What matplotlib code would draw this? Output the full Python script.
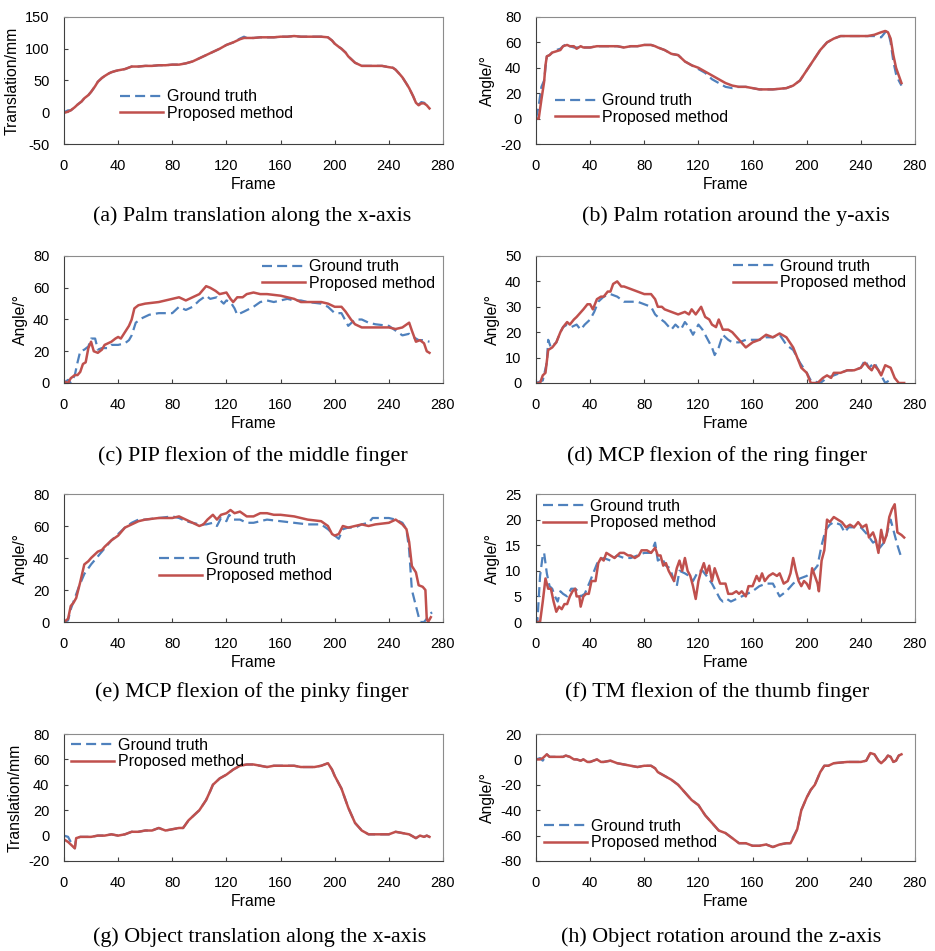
import numpy as np
import matplotlib
matplotlib.use("Agg")
import matplotlib.pyplot as plt

plt.rcParams['font.family'] = ['Liberation Sans', 'DejaVu Sans']
plt.rcParams['axes.unicode_minus'] = False

frame_ticks = [0, 40, 80, 120, 160, 200, 240, 280]

# (a) palm translation along x
pm_a_x = [0, 3, 5, 8, 10, 13, 15, 18, 20, 23, 25, 28, 30, 33, 35, 38, 40, 45, 50, 55, 60, 65, 70, 75, 80, 85,
          90, 95, 100, 105, 110, 115, 120, 125, 130, 133, 135, 140, 145, 150, 155, 160, 165, 170, 175, 180, 185,
          190, 195, 198, 200, 203, 205, 208, 210, 213, 215, 218, 220, 225, 230, 235, 240, 243, 245, 248, 250,
          253, 255, 258, 260, 262, 264, 266, 268, 270]
pm_a_y = [-1, 1, 3, 8, 12, 17, 22, 27, 32, 41, 48, 54, 57, 61, 63, 65, 66, 68, 72, 72, 73, 73, 74, 74, 75, 75,
          77, 80, 85, 90, 95, 100, 106, 110, 115, 117, 117, 117, 118, 118, 118, 119, 119, 120, 119, 119, 119,
          119, 118, 113, 108, 103, 100, 94, 88, 82, 78, 75, 73, 73, 73, 73, 71, 70, 67, 60, 55,
          45, 38, 25, 15, 11, 14, 14, 11, 6]
gt_a_x = pm_a_x
gt_a_y = [0, 3, 3, 8, 12, 17, 22, 27, 32, 41, 48, 54, 57, 61, 63, 65, 66, 68, 72, 72, 73, 73, 74, 74, 75, 75,
          77, 80, 85, 90, 95, 100, 106, 110, 116, 119, 117, 117, 118, 118, 118, 119, 119, 120, 119, 119, 119,
          119, 118, 113, 108, 103, 100, 94, 88, 82, 78, 75, 73, 73, 73, 73, 71, 70, 67, 60, 55,
          45, 38, 25, 15, 12, 16, 15, 11, 6]

# (b) palm rotation around y
pm_b_x = [0, 2, 4, 6, 7, 8, 10, 12, 15, 18, 20, 23, 25, 28, 30, 33, 35, 40, 45, 50, 55, 60, 65, 70, 75, 80, 85,
          88, 90, 95, 100, 105, 110, 115, 120, 125, 130, 135, 140, 145, 150, 155, 160, 165, 170, 175, 180, 185,
          190, 195, 200, 205, 210, 215, 220, 225, 230, 235, 240, 245, 250, 255, 258, 260, 262, 264, 266, 268, 270]
pm_b_y = [0, 0, 15, 29, 42, 49, 50, 52, 53, 54, 57, 58, 57, 57, 55, 57, 56, 56, 57, 57, 57, 57, 56, 57, 57, 58, 58,
          57, 56, 54, 51, 50, 45, 42, 40, 37, 34, 31, 28, 26, 25, 25, 24, 23, 23, 23, 23.5, 24,
          26, 30, 38, 46, 54, 60, 63, 65, 65, 65, 65, 65, 66, 68, 69, 68, 63, 50, 40, 34, 28]
gt_b_x = pm_b_x
gt_b_y = [0, 10, 25, 30, 40, 49, 50, 52, 54, 55, 57, 59, 57, 56, 56, 56, 56, 56, 57, 57, 57, 57, 56, 57, 57, 58, 58,
          57, 56, 54, 51, 50, 45, 42, 39, 36, 31, 28, 25, 24, 25, 25, 24, 23, 23, 23, 23.5, 24,
          26, 30, 38, 46, 54, 60, 63, 65, 65, 65, 65, 65, 65, 64, 68, 69, 60, 45, 35, 30, 26]

# (c) PIP flexion, middle finger
pm_c_x = [0, 3, 5, 8, 10, 12, 14, 16, 18, 20, 22, 25, 28, 30, 35, 38, 40, 42, 45, 48, 50, 52, 55, 60, 70, 80, 85,
          90, 95, 100, 105, 108, 112, 115, 120, 123, 125, 128, 132, 135, 140, 145, 150, 160, 165, 170, 175, 180,
          190, 195, 200, 205, 208, 212, 215, 220, 230, 240, 245, 250, 255, 257, 260, 263, 266, 268, 270]
pm_c_y = [1, 0, 3, 5, 5, 7, 12, 13, 22, 26, 20, 19, 21, 24, 26, 28, 29, 28, 32, 36, 40, 47, 49, 50, 51, 53, 54,
          52, 54, 56, 61, 60, 58, 56, 57, 53, 51, 54, 54, 56, 57, 56, 56, 55, 54, 53, 51, 51,
          51, 50, 48, 48, 45, 40, 37, 35, 35, 35, 34, 35, 38, 33, 26, 27, 25, 20, 19]
gt_c_x = [0, 3, 5, 8, 10, 12, 15, 18, 20, 23, 25, 28, 32, 35, 40, 45, 48, 50, 53, 58, 63, 70, 80, 85, 90, 95,
          100, 105, 108, 113, 118, 120, 123, 126, 128, 133, 140, 145, 150, 155, 160, 165, 170, 175, 180, 190,
          195, 200, 205, 210, 215, 220, 225, 230, 240, 245, 250, 255, 258, 262, 265, 270]
gt_c_y = [0, 2, 0, 5, 13, 20, 21, 23, 28, 28, 21, 22, 22, 24, 24, 25, 27, 30, 38, 41, 43, 44, 44, 48, 46, 48,
          52, 55, 53, 54, 50, 52, 51, 47, 43, 45, 48, 51, 52, 51, 52, 53, 52, 52, 51, 50,
          48, 44, 44, 36, 40, 40, 38, 37, 36, 33, 30, 31, 29, 27, 27, 26]

# (d) MCP flexion, ring finger
pm_d_x = [0, 3, 5, 7, 9, 12, 15, 18, 20, 23, 25, 28, 30, 35, 38, 40, 42, 45, 48, 50, 53, 55, 57, 60, 63, 65, 70,
          75, 80, 85, 88, 90, 93, 95, 100, 105, 110, 113, 115, 118, 122, 125, 128, 130, 133, 135, 138, 142, 145,
          150, 155, 160, 165, 170, 175, 180, 185, 190, 193, 196, 200, 203, 208, 212, 215, 218, 220, 225, 230,
          235, 240, 243, 246, 248, 250, 253, 255, 258, 262, 265, 268, 272]
pm_d_y = [0, 0, 3, 4, 13, 14, 16, 20, 22, 24, 23, 25, 26, 29, 31, 31, 29, 33, 34, 34, 36, 36, 39, 40, 38, 38, 37,
          36, 35, 35, 33, 30, 30, 29, 28, 27, 28, 27, 29, 27, 30, 26, 25, 23, 22, 25, 21, 21, 20,
          17, 14, 16, 17, 19, 18, 19.5, 18, 14, 10, 6, 4, 0, 0, 2, 3, 2, 4, 4, 5,
          5, 6, 8, 6, 5, 7, 5, 3, 7, 6, 2, 0, 0]
gt_d_x = [0, 5, 8, 9, 11, 15, 18, 20, 23, 26, 30, 33, 36, 40, 43, 46, 50, 55, 60, 65, 70, 75, 80, 85, 88, 90,
          95, 100, 103, 107, 110, 113, 116, 120, 123, 126, 130, 132, 135, 138, 142, 145, 150, 155, 160, 165,
          170, 175, 180, 185, 190, 195, 200, 203, 210, 215, 220, 225, 230, 235, 240, 243, 246, 250, 253, 256,
          258, 261]
gt_d_y = [0, 1, 8, 17, 14, 16, 20, 22, 23, 22, 23, 21, 23, 25, 28, 32, 34, 35, 34, 32, 32, 32, 31, 30, 27, 26,
          24, 21, 23, 21, 24, 22, 19, 23, 21, 18, 14, 11, 14, 19, 17, 16, 16, 17, 17, 17,
          18, 18, 19, 15, 13, 8, 4, 1, 0, 2, 3, 4, 5, 5, 6, 9, 6, 8, 5, 2,
          0, 1]

# (e) MCP flexion, pinky finger
pm_e_x = [0, 3, 5, 7, 9, 12, 15, 18, 20, 25, 28, 30, 35, 40, 45, 50, 55, 60, 70, 80, 85, 90, 95, 100, 103, 106,
          110, 113, 116, 120, 123, 126, 130, 135, 140, 145, 150, 155, 160, 170, 180, 190, 195, 198, 200, 203,
          206, 210, 215, 220, 225, 230, 240, 245, 250, 253, 255, 257, 260, 262, 265, 267, 268, 269, 271]
pm_e_y = [0, 2, 10, 12, 15, 25, 36, 38, 40, 44, 45, 47, 51, 54, 59, 61, 63, 64, 65, 65, 66, 64, 62, 60, 61, 64,
          67, 64, 67, 68, 70, 68, 69, 66, 66, 68, 68, 67, 67, 66, 64, 63, 60, 55, 54, 55,
          60, 59, 60, 61, 60, 61, 62, 64, 61, 58, 50, 35, 31, 23, 22, 20, 2, 0, 3]
gt_e_x = [0, 3, 5, 8, 11, 15, 20, 25, 30, 35, 40, 45, 50, 55, 60, 70, 80, 85, 90, 95, 100, 105, 110, 113, 116,
          120, 122, 125, 130, 135, 140, 145, 150, 160, 170, 180, 190, 195, 200, 203, 206, 210, 215, 220, 225,
          228, 235, 240, 245, 250, 253, 255, 257, 260, 263, 266, 268, 270, 272]
gt_e_y = [0, 1, 8, 15, 22, 30, 36, 41, 46, 51, 55, 59, 62, 64, 64, 65, 66, 65, 63, 62, 61, 61, 62, 60, 65,
          63, 67, 64, 64, 62, 62, 63, 64, 63, 62, 61, 61, 58, 54, 52, 58, 59, 59, 61, 62,
          65, 65, 65, 64, 62, 58, 45, 20, 10, 0, 0, 2, 5, 6]

# (f) TM flexion, thumb
pm_f_x = [0, 3, 5, 7, 9, 11, 13, 15, 17, 19, 21, 23, 25, 27, 29, 30, 32, 33, 35, 37, 39, 41, 44, 46, 48, 50,
          52, 55, 58, 60, 62, 65, 68, 70, 73, 76, 78, 82, 85, 88, 90, 92, 94, 96, 98, 100, 102, 104, 106,
          108, 110, 112, 114, 116, 118, 120, 122, 124, 126, 128, 130, 132, 134, 136, 138, 140, 142, 145,
          148, 150, 152, 155, 157, 160, 163, 165, 167, 169, 172, 175, 178, 180, 183, 186, 188, 190, 192,
          194, 196, 198, 200, 202, 204, 206, 208, 209, 211, 213, 215, 217, 220, 223, 226, 229, 232, 235,
          238, 241, 244, 246, 249, 251, 253, 255, 257, 259, 261, 263, 265, 267, 270, 272]
pm_f_y = [0, 0, 4, 8.5, 6.5, 6.5, 4, 2, 3, 2.5, 3.5, 3.5, 5, 6, 6.5, 5, 5, 3, 5, 5.5, 5.5, 8, 8, 11.5, 12.5, 12,
          13.5, 13, 12.5, 13, 13.5, 13.5, 13, 13, 12.5, 13, 14, 14, 13.5, 14.5, 13, 13, 11, 11.5, 10, 9, 8, 10.5, 12,
          10, 12.5, 10, 9, 7, 4.5, 8, 10, 11.5, 9.5, 11, 8, 10.5, 9, 7.5, 7.5, 7.5, 5.5, 5.5,
          6, 5.5, 6, 5, 7, 7, 9, 8, 9.5, 8, 9, 9.5, 9, 9.5, 7.5, 8, 9.5, 12.5, 10,
          8, 7, 8, 7.5, 6.5, 10.5, 9, 7.5, 6, 12, 14, 20, 19.5, 20.5, 20, 19.5, 18.5, 19, 18.5,
          19.5, 18.5, 19, 16.5, 17.5, 16, 13.5, 18, 15.5, 17, 20.5, 22, 23, 17.5, 17, 16.5]
gt_f_x = [0, 1, 3, 5, 6, 8, 10, 12, 14, 16, 18, 20, 23, 26, 29, 31, 33, 36, 40, 43, 46, 50, 55, 60, 65, 70, 75,
          80, 85, 88, 90, 93, 96, 99, 102, 104, 106, 110, 113, 116, 120, 123, 126, 130, 133, 136, 138, 141,
          144, 148, 152, 156, 160, 165, 170, 175, 180, 185, 190, 195, 200, 205, 208, 211, 214, 217, 220, 225,
          228, 231, 235, 240, 245, 249, 252, 254, 257, 259, 262, 264, 267, 270]
gt_f_y = [1, 0, 9, 13, 13.5, 9.5, 7, 6.5, 5, 4, 6, 5.5, 5, 6.5, 6.5, 6, 5, 5.5, 8, 10, 12, 12.5, 12, 13, 12.5,
          12.5, 13, 13.5, 13.5, 15.5, 12, 12.5, 11, 10.5, 8, 7, 10, 9.5, 9, 8, 10, 10, 9, 7.5, 6, 4.5, 4, 4.5,
          4, 4.5, 5, 5.5, 6, 7, 7.5, 7.5, 5, 6, 7.5, 8.5, 9, 10, 11, 15, 18, 19, 19.5, 19,
          17.5, 18.5, 18.5, 18.5, 17, 15.5, 16, 14.5, 15.5, 17, 20, 18, 15, 12.5]

# (g) object translation along x
pm_g_x = [0, 3, 6, 8, 9, 12, 20, 25, 30, 35, 40, 45, 50, 55, 60, 65, 70, 75, 80, 85, 88, 92, 96, 100, 105, 108,
          110, 115, 120, 125, 130, 135, 140, 145, 150, 155, 160, 170, 175, 180, 185, 190, 195, 198, 200, 205,
          210, 215, 220, 225, 230, 240, 245, 250, 255, 260, 263, 266, 268, 270]
pm_g_y = [-3, -5, -8, -10, -2, -1, -1, 0, 0, 1, 0, 1, 3, 3, 4, 4, 6, 4, 5, 6, 6, 12, 16, 20, 28, 35,
          40, 45, 48, 52, 55, 56, 56, 55, 54, 55, 55, 55, 54, 54, 54, 55, 57, 52, 47, 37,
          22, 10, 4, 1, 1, 1, 3, 2, 1, -2, 0, -1, 0, -1]
gt_g_x = pm_g_x
gt_g_y = [0, -1, -7, -10, -2, -1, -1, 0, 0, 1, 0, 1, 3, 3, 4, 4, 6, 4, 5, 6, 6, 12, 16, 20, 28, 35,
          40, 45, 48, 52, 55, 56, 56, 55, 54, 55, 55, 55, 54, 54, 54, 55, 57, 52, 47, 37,
          22, 10, 4, 1, 1, 1, 3, 2, 1, -2, 0, -1, 0, -1]

# (h) object rotation around z
pm_h_x = [0, 3, 5, 8, 10, 15, 20, 22, 25, 28, 30, 33, 35, 38, 40, 45, 48, 50, 55, 60, 65, 70, 75, 80, 85, 88,
          90, 95, 100, 105, 110, 115, 120, 125, 130, 135, 140, 145, 150, 155, 160, 165, 170, 175, 180, 185,
          188, 190, 193, 196, 200, 203, 206, 210, 213, 216, 220, 230, 240, 244, 247, 250, 253, 255, 258, 260,
          262, 264, 266, 268, 270]
pm_h_y = [0, 0, 1, 4, 2, 2, 2, 3, 2, 0, 0, -1, 0, -2, -2, 0, -2, -2, -1, -3, -4, -5, -6, -5, -5, -7,
          -10, -13, -16, -20, -26, -32, -36, -44, -50, -56, -58, -62, -66, -66, -68, -68, -67, -69, -67, -66,
          -66, -62, -55, -40, -30, -24, -20, -10, -5, -5, -3, -2, -2, -1, 5, 4, -1, -3, 0, 3,
          2, -2, -1, 3, 4]
gt_h_x = pm_h_x
gt_h_y = [0, 1, -1, 4, 2, 2, 2, 3, 2, 0, 0, -1, 0, -2, -2, 0, -2, -2, -1, -3, -4, -5, -6, -5, -5, -7,
          -10, -13, -16, -20, -26, -32, -36, -44, -50, -56, -58, -62, -66, -66, -68, -68, -67, -69, -67, -66,
          -66, -61, -55, -40, -30, -24, -20, -10, -5, -5, -3, -2, -2, -1, 5, 4, -1, -3, 0, 3,
          2, -2, -1, 3, 4]

ylabels = ['Translation/mm', 'Angle/°', 'Angle/°', 'Angle/°', 'Angle/°', 'Angle/°', 'Translation/mm', 'Angle/°']
ylims = [(-50, 150), (-20, 80), (0, 80), (0, 50), (0, 80), (0, 25), (-20, 80), (-80, 20)]
ysteps = [50, 20, 20, 10, 20, 5, 20, 20]
captions = ['(a) Palm translation along the x-axis', '(b) Palm rotation around the y-axis',
            '(c) PIP flexion of the middle finger', '(d) MCP flexion of the ring finger',
            '(e) MCP flexion of the pinky finger', '(f) TM flexion of the thumb finger',
            '(g) Object translation along the x-axis', '(h) Object rotation around the z-axis']

gt = [(gt_a_x, gt_a_y), (gt_b_x, gt_b_y), (gt_c_x, gt_c_y), (gt_d_x, gt_d_y),
      (gt_e_x, gt_e_y), (gt_f_x, gt_f_y), (gt_g_x, gt_g_y), (gt_h_x, gt_h_y)]
pm = [(pm_a_x, pm_a_y), (pm_b_x, pm_b_y), (pm_c_x, pm_c_y), (pm_d_x, pm_d_y),
      (pm_e_x, pm_e_y), (pm_f_x, pm_f_y), (pm_g_x, pm_g_y), (pm_h_x, pm_h_y)]

# layout (pixels in a 935x951 canvas)
W, H = 935, 951
col_left = [64, 536]
ax_w = 379
row_box = [(17, 144), (256, 383), (494, 622), (734, 861)]
leg_pos = [(0.148, 0.307), (0.050, 0.276), (0.522, 0.850), (0.520, 0.854),
           (0.251, 0.426), (0.018, 0.840), (0.018, 0.846), (0.021, 0.209)]
cap_x = [252, 736, 253, 717, 252, 717, 260, 721]
cap_y = [216, 216, 456, 456, 692, 692, 937, 937]

fig = plt.figure(figsize=(W / 100, H / 100), dpi=100)

for i in range(8):
    r, c = divmod(i, 2)
    top, bot = row_box[r]
    ax = fig.add_axes([col_left[c] / W, 1 - bot / H, ax_w / W, (bot - top) / H])

    l1, = ax.plot(gt[i][0], gt[i][1], color='#4F81BD', lw=1.6, ls='--', label='Ground truth')
    l1.set_dashes((4.5, 2.3))
    ax.plot(pm[i][0], pm[i][1], color='#C0504D', lw=1.8, label='Proposed method')

    ax.set_xlim(0, 280)
    ax.set_xticks(frame_ticks)
    lo, hi = ylims[i]
    ax.set_ylim(lo, hi)
    ax.set_yticks(np.arange(lo, hi + 1, ysteps[i]))
    ax.tick_params(direction='in', length=3, width=0.8, color='#404040', labelsize=10.5, pad=10.5)
    for s in ['left', 'bottom']:
        ax.spines[s].set_color('#404040')
    for s in ['top', 'right']:
        ax.spines[s].set_color('#8c8c8c')
    ax.set_xlabel('Frame', fontsize=11.3, labelpad=3)
    ax.set_ylabel(ylabels[i], fontsize=11.3, labelpad=4)

    ax.legend(loc='center left', bbox_to_anchor=leg_pos[i], frameon=False, fontsize=11.5,
              handlelength=2.7, handletextpad=0.25, labelspacing=0.1, borderpad=0, borderaxespad=0)

    fig.text(cap_x[i] / W, 1 - cap_y[i] / H, captions[i], ha='center', va='center',
             fontsize=15.8, family=['Liberation Serif', 'DejaVu Serif'])

fig.savefig('out.png', dpi=100)
